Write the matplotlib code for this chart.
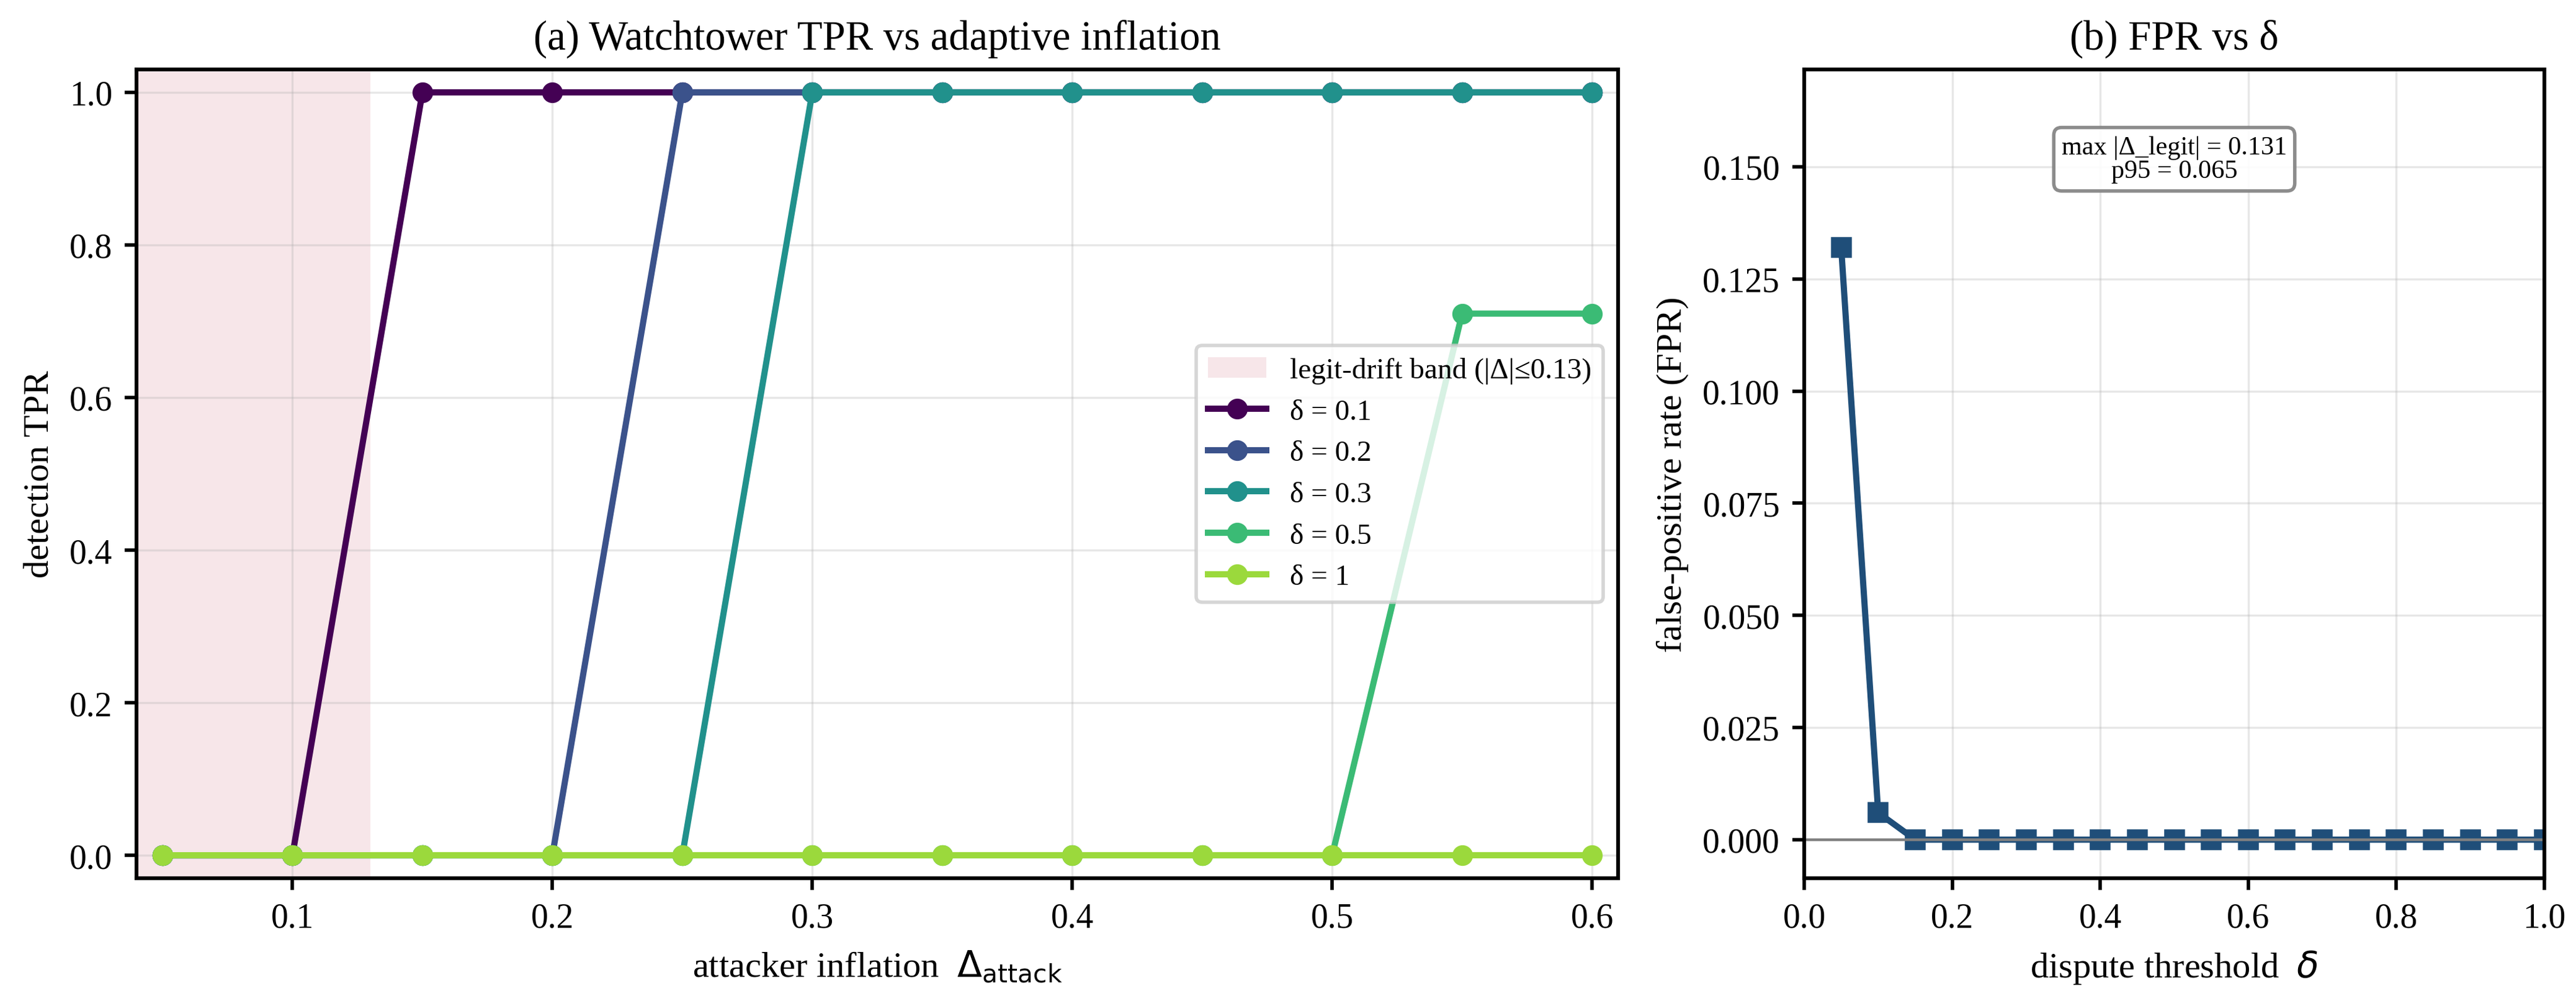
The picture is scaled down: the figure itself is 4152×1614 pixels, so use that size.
import matplotlib
matplotlib.use("Agg")
import matplotlib.pyplot as plt
import numpy as np

plt.rcParams['font.family'] = ['Liberation Serif', 'DejaVu Serif']
plt.rcParams['mathtext.fontset'] = 'dejavusans'

# ---------------- data ----------------
attack_inflation = [0.05, 0.10, 0.15, 0.20, 0.25, 0.30, 0.35, 0.40, 0.45, 0.50, 0.55, 0.60]
delta_labels = ["0.1", "0.2", "0.3", "0.5", "1"]
tpr_d01 = [0, 0, 1, 1, 1, 1, 1, 1, 1, 1, 1, 1]
tpr_d02 = [0, 0, 0, 0, 1, 1, 1, 1, 1, 1, 1, 1]
tpr_d03 = [0, 0, 0, 0, 0, 1, 1, 1, 1, 1, 1, 1]
tpr_d05 = [0, 0, 0, 0, 0, 0, 0, 0, 0, 0, 0.71, 0.71]
tpr_d10 = [0, 0, 0, 0, 0, 0, 0, 0, 0, 0, 0, 0]
tpr_series = [tpr_d01, tpr_d02, tpr_d03, tpr_d05, tpr_d10]
legit_band = 0.13

dispute_delta = [0.05, 0.10, 0.15, 0.20, 0.25, 0.30, 0.35, 0.40, 0.45, 0.50,
                 0.55, 0.60, 0.65, 0.70, 0.75, 0.80, 0.85, 0.90, 0.95, 1.00]
fpr = [0.132, 0.006, 0, 0, 0, 0, 0, 0, 0, 0,
       0, 0, 0, 0, 0, 0, 0, 0, 0, 0]
max_legit = 0.131
p95_legit = 0.065

# ---------------- figure ----------------
W, H, DPI = 4152, 1615, 400
fig = plt.figure(figsize=(W / DPI, H / DPI), dpi=DPI)

def frac(x0, x1, ytop, ybot):
    return [x0 / W, 1 - ybot / H, (x1 - x0) / W, (ybot - ytop) / H]

ax1 = fig.add_axes(frac(220, 2608, 113, 1417))
ax2 = fig.add_axes(frac(2908, 4101, 113, 1417))

for ax in (ax1, ax2):
    for s in ax.spines.values():
        s.set_linewidth(1.1)
        s.set_color('black')
    ax.tick_params(labelsize=10, width=1.0, length=3.5)
    ax.grid(True, color='#b0b0b0', alpha=0.3, linewidth=0.6)

# ---- panel (a) ----
ax1.axvspan(-legit_band, legit_band, color='#d4788a', alpha=0.18, lw=0,
            label="legit-drift band (|Δ|≤0.13)")
colors = plt.cm.viridis([0.0, 0.25, 0.5, 0.68, 0.85])
for lab, ys, c in zip(delta_labels, tpr_series, colors):
    ax1.plot(attack_inflation, ys, marker='o', ms=5, lw=1.8, color=c,
             label=f"δ = {lab}")
ax1.set_xlim(0.04, 0.61)
ax1.set_ylim(-0.03, 1.03)
ax1.set_xticks([0.1, 0.2, 0.3, 0.4, 0.5, 0.6])
ax1.set_yticks([0.0, 0.2, 0.4, 0.6, 0.8, 1.0])
ax1.set_xlabel(r"attacker inflation  $\Delta_{\mathrm{attack}}$", fontsize=10.5)
ax1.set_ylabel("detection TPR", fontsize=10.5)
ax1.set_title("(a) Watchtower TPR vs adaptive inflation", fontsize=12)
leg = ax1.legend(loc='center right', fontsize=8.5, framealpha=0.8,
                 edgecolor='#cccccc')

# ---- panel (b) ----
ax2.plot(dispute_delta, fpr, marker='s', ms=5, lw=1.8, color='#1f4e79')
ax2.axhline(0, color='gray', lw=0.8)
ax2.set_xlim(0, 1.0)
ax2.set_ylim(-0.0086, 0.1717)
ax2.set_xticks([0.0, 0.2, 0.4, 0.6, 0.8, 1.0])
ax2.set_yticks([0.0, 0.025, 0.05, 0.075, 0.1, 0.125, 0.15])
ax2.yaxis.set_major_formatter(matplotlib.ticker.FormatStrFormatter('%.3f'))
ax2.set_xlabel(r"dispute threshold  $\delta$", fontsize=10.5)
ax2.set_ylabel("false-positive rate (FPR)", fontsize=10.5)
ax2.set_title("(b) FPR vs δ", fontsize=12)
ax2.text(0.5, 0.889, f"max |Δ_legit| = {max_legit:.3f}\np95 = {p95_legit:.3f}",
         transform=ax2.transAxes, ha='center', va='center', fontsize=7.6,
         linespacing=1.0,
         bbox=dict(boxstyle='round,pad=0.3', facecolor='white',
                   edgecolor='gray', lw=1.0, alpha=0.9))

fig.savefig("out.png", dpi=DPI)
